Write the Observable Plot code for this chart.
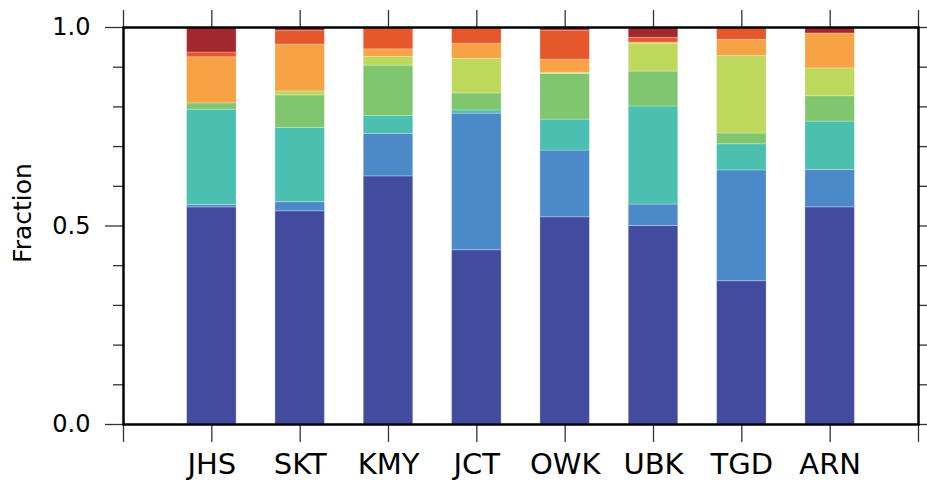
<!DOCTYPE html>
<html><head><meta charset="utf-8">
<script src="https://cdn.jsdelivr.net/npm/d3@7"></script>
<script src="https://cdn.jsdelivr.net/npm/@observablehq/plot@0.6"></script>
<style>body{margin:0;background:#fff}</style>
</head><body><div id="chart"></div>
<script>
const stations = ["JHS","SKT","KMY","JCT","OWK","UBK","TGD","ARN"];
const types = ["Type 1","Type 2","Type 3","Type 4","Type 5","Type 6","Type 7","Type 8"];
const colors = ["#434b9e","#4b89c8","#4cc0b0","#80c66e","#bdd85b","#f6a245","#e5582b","#a1282e"];
const type1 = [0.547,0.537,0.625,0.439,0.522,0.500,0.361,0.547];
const type2 = [0.006,0.023,0.107,0.344,0.168,0.054,0.279,0.094];
const type3 = [0.240,0.187,0.045,0.008,0.078,0.247,0.066,0.122];
const type4 = [0.016,0.082,0.127,0.043,0.115,0.088,0.027,0.064];
const type5 = [0.000,0.010,0.022,0.087,0.003,0.070,0.195,0.070];
const type6 = [0.116,0.118,0.019,0.038,0.033,0.003,0.041,0.088];
const type7 = [0.012,0.034,0.055,0.041,0.073,0.012,0.031,0.000];
const type8 = [0.063,0.009,0.000,0.000,0.008,0.026,0.000,0.015];
const yMajor = [0, 0.5, 1];
const yMinor = [0.1,0.2,0.3,0.4,0.6,0.7,0.8,0.9];
const xTicks = [0,1,2,3,4,5,6,7,8,9];

const series = [type1,type2,type3,type4,type5,type6,type7,type8];
const rows = [];
stations.forEach((s, i) => {
  let acc = 0;
  series.forEach((arr, k) => {
    const v = arr[i];
    rows.push({station: s, pos: i + 1, type: types[k], value: v, y1: acc, y2: acc + v});
    acc += v;
  });
});

const font = "DejaVu Sans";
const tickStroke = "#333";
const chart = Plot.plot({
  width: 927, height: 485,
  marginLeft: 123, marginRight: 9, marginTop: 27, marginBottom: 61,
  style: {fontFamily: font, background: "white", color: "black"},
  x: {domain: [0, 9]},
  y: {domain: [0, 1]},
  color: {domain: types, range: colors},
  marks: [
    Plot.rect(rows.filter(d => d.value > 0), {
      x1: d => d.pos - 0.28, x2: d => d.pos + 0.28, y1: "y1", y2: "y2",
      fill: "type", stroke: "white", strokeOpacity: 0.25, strokeWidth: 1
    }),
    Plot.axisX({ticks: xTicks, tickSize: 18, tickPadding: 11, stroke: tickStroke, strokeWidth: 1.3,
      tickFormat: d => stations[d - 1] ?? "", fontSize: 29, label: null}),
    Plot.axisX({anchor: "top", ticks: xTicks, tickSize: 18, stroke: tickStroke, strokeWidth: 1.3,
      tickFormat: () => "", label: null}),
    Plot.axisY({ticks: yMajor, tickSize: 18, tickPadding: 15, stroke: tickStroke, strokeWidth: 1.3,
      tickFormat: d3.format(".1f"), fontSize: 24, label: null}),
    Plot.axisY({ticks: yMinor, tickSize: 10, stroke: tickStroke, strokeWidth: 1.3,
      tickFormat: () => "", label: null}),
    Plot.axisY({anchor: "right", ticks: yMajor, tickSize: 18, stroke: tickStroke, strokeWidth: 1.3,
      tickFormat: () => "", label: null}),
    Plot.axisY({anchor: "right", ticks: yMinor, tickSize: 10, stroke: tickStroke, strokeWidth: 1.3,
      tickFormat: () => "", label: null}),
    Plot.text(["Fraction"], {frameAnchor: "left", dx: -101, dy: -13, rotate: -90,
      textAnchor: "middle", text: d => d, fontSize: 25, fill: "black"}),
    Plot.frame({stroke: "black", strokeWidth: 2.5})
  ]
});
document.getElementById("chart").appendChild(chart);
</script>
</body></html>
